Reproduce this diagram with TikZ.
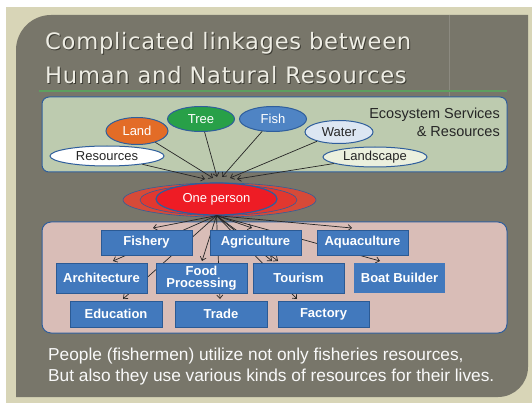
\documentclass[tikz,border=0pt]{standalone}
\usepackage{fontspec}
\setmainfont{Liberation Sans}
\newfontfamily\titlefont[LetterSpace=3.3]{DejaVu Sans}
\usetikzlibrary{arrows.meta,shapes.geometric}
\definecolor{beige}{HTML}{D8D5B7}
\definecolor{panel}{HTML}{78766A}
\definecolor{titlecol}{HTML}{EEEDE4}
\definecolor{shadowcol}{HTML}{3C3B33}
\definecolor{rulegreen}{HTML}{5E9E60}
\definecolor{ecofill}{HTML}{BDCBAF}
\definecolor{pinkfill}{HTML}{D9BDB7}
\definecolor{frameblue}{HTML}{2F5E9C}
\definecolor{boxblue}{HTML}{4279BD}
\definecolor{boxline}{HTML}{2B5A94}
\definecolor{landcol}{HTML}{E36C27}
\definecolor{treecol}{HTML}{28A048}
\definecolor{fishcol}{HTML}{4F84C4}
\definecolor{watercol}{HTML}{DCE6F2}
\definecolor{scapecol}{HTML}{EBF0DE}
\definecolor{redA}{HTML}{D64A38}
\definecolor{redB}{HTML}{E2382F}
\definecolor{redC}{HTML}{EE1C25}
\definecolor{arrowcol}{HTML}{262626}
\begin{document}
\begin{tikzpicture}[x=1pt,y=-1pt,
  eco/.style={ellipse, draw=frameblue, line width=1pt, inner sep=0pt,
    font=\fontsize{13}{13}\selectfont},
  bluebox/.style={rectangle, fill=boxblue, draw=boxline, line width=0.8pt,
    minimum width=91pt, inner sep=0pt, text=white,
    font=\bfseries\fontsize{13}{11.5}\selectfont, align=center},
  arr/.style={draw=arrowcol, line width=0.7pt, -{Straight Barb[length=3.5pt,width=6pt]}},
  titletext/.style={anchor=base west, inner sep=0pt, font=\titlefont\fontsize{22.6}{22.6}\selectfont},
  foottext/.style={anchor=base west, inner sep=0pt, text=white!95!gray, font=\fontsize{17.3}{17.3}\selectfont},
  labeltext/.style={anchor=base east, inner sep=0pt, text=black!85, font=\fontsize{14.5}{14.5}\selectfont}
]
\useasboundingbox (0,0) rectangle (532,403);
\fill[white] (0,0) rectangle (532,403);
\fill[beige] (6,7) rectangle (532,403);
% panel
\fill[panel] (16,397) -- (16,50) .. controls (16,30.7) and (31.7,15) .. (51,15)
  -- (528,15) -- (528,367) .. controls (528,383.6) and (514.6,397) .. (498,397) -- cycle;
\draw[panel!85!white, line width=0.6pt] (449,15) -- (449,97);
% title
\node[titletext, text=shadowcol] (t1s) at (46,51) {Complicated linkages between};
\node[titletext, text=shadowcol] (t2s) at (46,85) {Human and Natural Resources};
\node[titletext, text=titlecol] (t1) at (45,50) {Complicated linkages between};
\node[titletext, text=titlecol] (t2) at (45,84) {Human and Natural Resources};
\draw[rulegreen, line width=1.2pt] (39,91) -- (507,91);
% ecosystem box
\filldraw[fill=ecofill, draw=frameblue, line width=1pt, rounded corners=7pt] (42,97) rectangle (507,172);
\node[labeltext] (eco1) at (500,119) {Ecosystem Services};
\node[labeltext] (eco2) at (500,137) {\& Resources};
% resource ellipses
\node[eco, fill=landcol, text=white, minimum width=62pt, minimum height=27pt] (land) at (137,131) {Land};
\node[eco, fill=treecol, text=white, minimum width=67pt, minimum height=25pt] (tree) at (201,119) {Tree};
\node[eco, fill=fishcol, text=white, minimum width=67pt, minimum height=25pt] (fish) at (273,119) {Fish};
\node[eco, fill=watercol, text=black!85, minimum width=68pt, minimum height=23pt] (water) at (339,132) {Water};
\node[eco, fill=white, text=black!85, minimum width=114pt, minimum height=20pt] (res) at (107,156) {Resources};
\node[eco, fill=scapecol, text=black!85, minimum width=104pt, minimum height=20pt] (scape) at (375,157) {Landscape};
% convergence points
\coordinate (e1) at (205,179);
\coordinate (e2) at (213,178);
\coordinate (e3) at (217,177);
\coordinate (e4) at (222,177);
\coordinate (e5) at (230,178);
\coordinate (e6) at (237,179);
\draw[arr] (res) -- (e1);
\draw[arr] (land) -- (e2);
\draw[arr] (tree) -- (e3);
\draw[arr] (fish) -- (e4);
\draw[arr] (water) -- (e5);
\draw[arr] (scape) -- (e6);
% person
\node[ellipse, fill=redA, draw=frameblue, line width=0.6pt, minimum width=193pt, minimum height=34pt, inner sep=0pt] (pa) at (219.5,200) {};
\node[ellipse, fill=redB, draw=frameblue, line width=0.6pt, minimum width=157pt, minimum height=31pt, inner sep=0pt] (pb) at (218.5,200) {};
\node[ellipse, fill=redC, draw=frameblue, line width=1.2pt, minimum width=121pt, minimum height=32pt, inner sep=0pt,
  text=white, font=\fontsize{13}{13}\selectfont] (pf) at (216.5,199) {One person};
% activities box
\filldraw[fill=pinkfill, draw=frameblue, line width=1pt, rounded corners=9pt] (42,222) rectangle (507,333);
\coordinate (tFish) at (153,228);
\coordinate (tAgri) at (252,228);
\coordinate (tAqua) at (352,228);
\coordinate (tArch) at (113,261);
\coordinate (tFood) at (202,261);
\coordinate (tTourA) at (272,261);
\coordinate (tTourB) at (278,261);
\coordinate (tBoat) at (380,261);
\coordinate (tEdu) at (123,299);
\coordinate (tTrade) at (220,299);
\coordinate (tFact) at (297,299);
\foreach \t in {tFish,tAgri,tAqua,tArch,tFood,tTourA,tTourB,tBoat,tEdu,tTrade,tFact}
  \draw[arr] (pf.south) -- (\t);
\node[bluebox, minimum height=25pt] (fishery) at (146.5,242.5) {Fishery};
\node[bluebox, minimum height=25pt] (agri) at (255.5,242.5) {Agriculture};
\node[bluebox, minimum height=25pt] (aqua) at (362.5,242.5) {Aquaculture};
\node[bluebox, minimum height=30pt] (arch) at (101.5,278) {Architecture};
\node[bluebox, minimum height=30pt] (food) at (201.5,278) {Food\\Processing};
\node[bluebox, minimum height=30pt] (tour) at (298.5,278) {Tourism};
\node[bluebox, minimum height=30pt, draw=none] (boat) at (399.5,278) {Boat Builder};
\node[bluebox, minimum height=26pt, minimum width=92pt] (edu) at (116,314) {Education};
\node[bluebox, minimum height=26pt, minimum width=92pt] (trade) at (221,314) {Trade};
\node[bluebox, minimum height=26pt, minimum width=91pt] (fact) at (323.5,314) {Factory};
% footer
\node[foottext] (f1) at (48,360) {People (fishermen) utilize not only fisheries resources,};
\node[foottext] (f2) at (48,381) {But also they use various kinds of resources for their lives.};
\end{tikzpicture}
\end{document}
